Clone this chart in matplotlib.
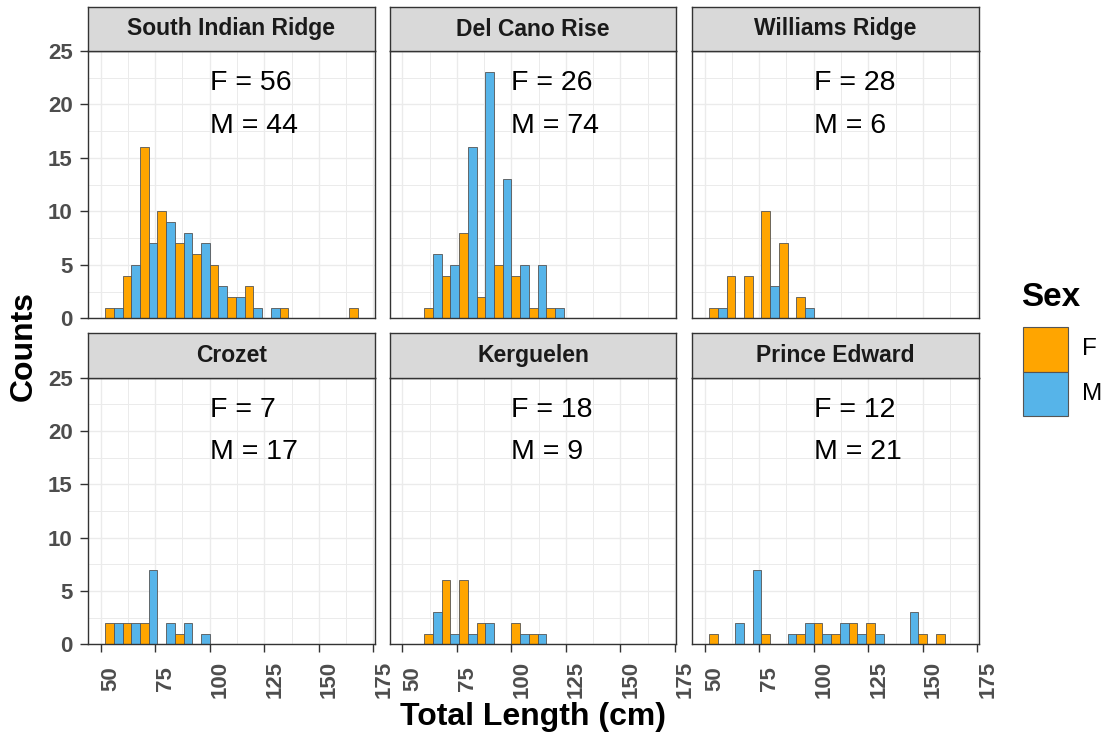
import numpy as np
import matplotlib
matplotlib.use("Agg")
import matplotlib.pyplot as plt
from matplotlib.patches import Rectangle

plt.rcParams['font.family'] = ['Liberation Sans', 'DejaVu Sans']

# histogram bins: 8 cm wide starting at 52 cm, F and M dodged within each bin
bin_start = 52
bin_width = 8

sites = ["South Indian Ridge", "Del Cano Rise", "Williams Ridge",
         "Crozet", "Kerguelen", "Prince Edward"]
f_totals = [56, 26, 28, 7, 18, 12]
m_totals = [44, 74, 6, 17, 9, 21]

# counts per bin (F covers 52-172, M covers 52-164)
f_counts = [
    [1, 4, 16, 10, 7, 6, 5, 2, 3, 0, 1, 0, 0, 0, 1],
    [0, 1, 4, 8, 2, 5, 4, 1, 1, 0, 0, 0, 0, 0, 0],
    [1, 4, 4, 10, 7, 2, 0, 0, 0, 0, 0, 0, 0, 0, 0],
    [2, 2, 2, 0, 1, 0, 0, 0, 0, 0, 0, 0, 0, 0, 0],
    [0, 1, 6, 6, 2, 0, 2, 1, 0, 0, 0, 0, 0, 0, 0],
    [1, 0, 0, 1, 0, 1, 2, 1, 2, 2, 0, 0, 1, 1, 0],
]
m_counts = [
    [1, 5, 7, 9, 8, 7, 3, 2, 1, 1, 0, 0, 0, 0],
    [0, 6, 5, 16, 23, 13, 5, 5, 1, 0, 0, 0, 0, 0],
    [1, 0, 0, 3, 0, 1, 0, 0, 0, 0, 0, 0, 0, 0],
    [2, 2, 7, 2, 2, 1, 0, 0, 0, 0, 0, 0, 0, 0],
    [0, 3, 1, 1, 2, 0, 1, 1, 0, 0, 0, 0, 0, 0],
    [0, 2, 7, 0, 1, 2, 1, 2, 1, 1, 0, 3, 0, 0],
]

sex_colors = {"F": "#FFA500", "M": "#56B4E9"}
edge = "#555555"
border = "#333333"
grid_col = "#EBEBEB"
tick_col = "#4D4D4D"

W, H = 1108, 738
fig = plt.figure(figsize=(W / 100, H / 100), dpi=100)


def rect(x0, y0, x1, y1):
    return [x0 / W, 1 - y1 / H, (x1 - x0) / W, (y1 - y0) / H]


col_x = [88.3, 390.0, 692.3]
panel_w = 286.3
panel_y = [(51.0, 318.3), (377.7, 644.3)]
strip_top = [7.0, 333.3]

for k, site in enumerate(sites):
    r, c = divmod(k, 3)
    x0 = col_x[c]
    y0, y1 = panel_y[r]
    ax = fig.add_axes(rect(x0, y0, x0 + panel_w, y1))

    fc = f_counts[k]
    mc = m_counts[k]
    f_left = bin_start + bin_width * np.arange(len(fc))
    m_left = bin_start + bin_width * np.arange(len(mc)) + bin_width / 2
    ax.bar(f_left, fc, width=bin_width / 2, align='edge',
           color=sex_colors["F"], edgecolor=edge, linewidth=0.6, zorder=3)
    ax.bar(m_left, mc, width=bin_width / 2, align='edge',
           color=sex_colors["M"], edgecolor=edge, linewidth=0.6, zorder=3)

    ax.text(100, 22, f"F = {f_totals[k]}", ha='left', va='center',
            fontsize=20.5, color='black', zorder=5)
    ax.text(100, 18, f"M = {m_totals[k]}", ha='left', va='center',
            fontsize=20.5, color='black', zorder=5)

    ax.set_xlim(44.3, 175.6)
    ax.set_ylim(0, 25)
    ax.set_xticks([50, 75, 100, 125, 150, 175])
    ax.set_xticks(np.arange(62.5, 175, 25), minor=True)
    ax.set_yticks([0, 5, 10, 15, 20, 25])
    ax.set_yticks(np.arange(2.5, 25, 5), minor=True)
    ax.grid(True, which='major', color=grid_col, linewidth=1.0, zorder=0)
    ax.grid(True, which='minor', color=grid_col, linewidth=0.7, zorder=0)
    ax.set_axisbelow(True)
    for s in ax.spines.values():
        s.set_color(border)
        s.set_linewidth(1.0)
        s.set_zorder(4)

    ax.tick_params(which='minor', length=0)
    ax.tick_params(axis='y', which='major', length=5.5, width=1.0,
                   color=border, pad=5.8, labelsize=16, labelcolor=tick_col)
    ax.tick_params(axis='x', which='major', length=5.5, width=1.0,
                   color=border, pad=19.5, labelsize=16, labelcolor=tick_col)
    for lab in ax.get_yticklabels():
        lab.set_fontweight('bold')
    for lab in ax.get_xticklabels():
        lab.set_fontweight('bold')
        lab.set_rotation(90)
        lab.set_ha('left')
        lab.set_va('center')

    if c != 0:
        ax.tick_params(axis='y', which='major', length=0, labelleft=False)
    if r == 0:
        ax.tick_params(axis='x', which='major', length=0, labelbottom=False)

    # facet strip
    sax = fig.add_axes(rect(x0, strip_top[r], x0 + panel_w, y0))
    sax.set_facecolor('#D9D9D9')
    sax.set_xticks([])
    sax.set_yticks([])
    for s in sax.spines.values():
        s.set_color(border)
        s.set_linewidth(1.0)
    sax.text(0.5, 0.5, site, ha='center', va='center', fontsize=16.5,
             fontweight='bold', color='#1A1A1A', transform=sax.transAxes)

# axis titles
fig.text(24 / W, 1 - 346 / H, "Counts", rotation=90, ha='center', va='center',
         fontsize=23, fontweight='bold')
fig.text(533 / W, 1 - 717 / H, "Total Length (cm)", ha='center', va='center',
         fontsize=23, fontweight='bold')

# legend
fig.text(1021 / W, 1 - 297 / H, "Sex", ha='left', va='center',
         fontsize=24, fontweight='bold')
key_x, key_w, key_h = 1022.7, 45.0, 44.8
for i, (lab, col) in enumerate(sex_colors.items()):
    ky = 326.8 + i * key_h
    fig.add_artist(Rectangle((key_x / W, 1 - (ky + key_h) / H), key_w / W, key_h / H,
                             transform=fig.transFigure, facecolor=col,
                             edgecolor=edge, linewidth=0.8))
    fig.text(1082 / W, 1 - (ky + key_h / 2) / H, lab, ha='left', va='center',
             fontsize=17.5)

fig.savefig("out.png", dpi=100)
